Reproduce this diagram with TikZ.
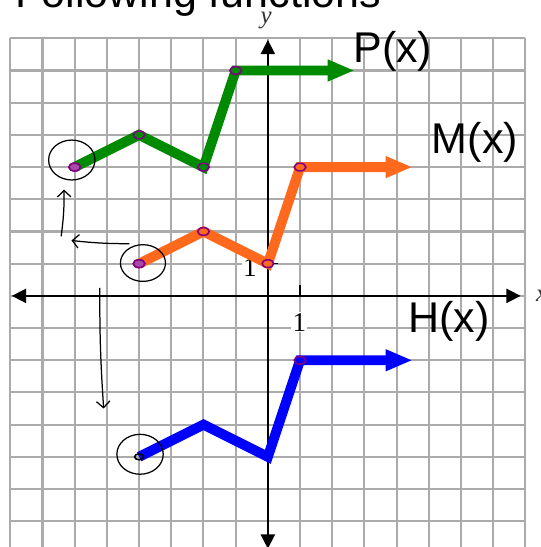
\documentclass[tikz,border=0pt]{standalone}
\usepackage{fontspec}
\setmainfont{Liberation Serif}
\newfontfamily\labelfont{Liberation Sans}
\usepackage{tikz}
\usetikzlibrary{arrows.meta, positioning, shapes.geometric}
\definecolor{pgreen}{RGB}{0, 138, 0}
\definecolor{morange}{RGB}{255, 105, 30}
\definecolor{hblue}{RGB}{0, 0, 255}
\definecolor{markpurple}{RGB}{128, 0, 128}

\begin{document}
\begin{tikzpicture}[
    x=1cm, y=1cm,
    gridline/.style={draw=black!33, line width=1.8pt},
    axis/.style={line width=1.5pt, {Triangle[length=0.44cm, width=0.44cm]}-{Triangle[length=0.44cm, width=0.44cm]}},
    tickmark/.style={line width=1.1pt},
    graph/.style={line width=8.8pt, line join=miter, -{Triangle[length=0.84cm, width=0.62cm]}},
    vertex/.style={ellipse, draw=markpurple, line width=1.4pt, minimum width=0.36cm, minimum height=0.24cm, inner sep=0pt},
    hand/.style={draw=black, line width=1.1pt},
    handarrow/.style={hand, -{Straight Barb[length=0.2cm, width=0.42cm]}},
    funclabel/.style={font=\labelfont\fontsize{38}{40}\selectfont, inner sep=0pt},
    ticklabel/.style={font=\fontsize{24}{26}\selectfont, fill=white, inner sep=1pt},
    axislabel/.style={font=\itshape\fontsize{22}{24}\selectfont, text=black!80, inner sep=0pt}
]
\useasboundingbox (-8.32,-7.80) rectangle (8.48,9.19);
\clip (-8.32,-7.80) rectangle (8.48,9.19);

% Grid paper
\draw[gridline] (-8,-8) grid (8,8);

% Heading (cut off at the top)
\node[funclabel, anchor=base west] (heading) at (-7.85,8.97) {Following functions};

% Axes
\node[ticklabel] (xone) at (0.98,-0.82) {1};
\node[ticklabel] (yone) at (-0.56,0.87) {1};
\coordinate (xleft) at (-7.95,0);
\coordinate (xright) at (7.85,0);
\coordinate (ybottom) at (0,-7.85);
\coordinate (ytop) at (0,7.95);
\draw[axis] (xleft) -- (xright);
\draw[axis] (ybottom) -- (ytop);
\draw[tickmark] (1,0) -- (1,0.33);
\draw[tickmark] (0,1) -- (0.3,1);
\node[axislabel] (ylabel) at (-0.05,8.55) {y};
\node[axislabel] (xlabel) at (8.5,0) {x};

% P(x)
\coordinate (p1) at (-6,4);
\coordinate (p2) at (-4,5);
\coordinate (p3) at (-2,4);
\coordinate (p4) at (-1,7);
\coordinate (p5) at (2.7,7);
\draw[graph, pgreen] (p1) -- (p2) -- (p3) -- (p4) -- (p5);
\node[funclabel] (plabel) at (3.88,7.6) {P(x)};

% M(x)
\coordinate (m1) at (-4,1);
\coordinate (m2) at (-2,2);
\coordinate (m3) at (0,1);
\coordinate (m4) at (1,4);
\coordinate (m5) at (4.5,4);
\draw[graph, morange] (m1) -- (m2) -- (m3) -- (m4) -- (m5);
\node[funclabel] (mlabel) at (6.43,4.78) {M(x)};

% H(x)
\coordinate (h1) at (-4,-5);
\coordinate (h2) at (-2,-4);
\coordinate (h3) at (0,-5);
\coordinate (h4) at (1,-2);
\coordinate (h5) at (4.5,-2);
\draw[graph, hblue] (h1) -- (h2) -- (h3) -- (h4) -- (h5);
\node[funclabel] (hlabel) at (5.62,-0.8) {H(x)};

% Marked points
\foreach \pt in {p1,p2,p3,p4,m1,m2,m3,m4,h4}
    \node[vertex] at (\pt) {};
\node[vertex, fill=markpurple!70] at (m1) {};
\node[vertex, fill=markpurple!70] at (p1) {};
\node[vertex, draw=black, minimum width=0.28cm, minimum height=0.18cm] at (h1) {};

% Hand annotations
\draw[hand] (-6.09,4.22) ellipse (0.72 and 0.62);
\draw[hand] (-3.88,1.02) ellipse (0.7 and 0.57);
\draw[hand] (-3.97,-4.92) ellipse (0.72 and 0.62);
\coordinate (leftfrom) at (-4.3,1.62);
\coordinate (leftto) at (-6.1,1.72);
\coordinate (upfrom) at (-6.42,1.85);
\coordinate (upto) at (-6.33,3.3);
\coordinate (downfrom) at (-5.22,0.25);
\coordinate (downto) at (-5.1,-3.5);
\draw[handarrow] (leftfrom) to[bend left=3] (leftto);
\draw[handarrow] (upfrom) to[bend right=4] (upto);
\draw[handarrow] (downfrom) to[bend right=2] (downto);

\end{tikzpicture}
\end{document}
